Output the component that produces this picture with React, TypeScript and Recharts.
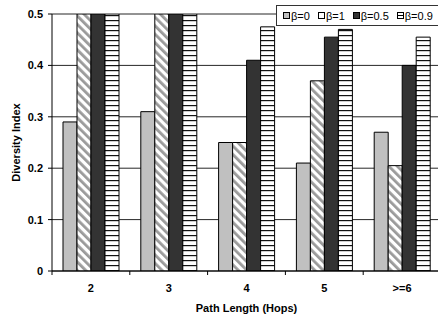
import React from 'react';
import { BarChart, Bar, XAxis, YAxis, CartesianGrid, Label } from 'recharts';

const categories = ['2', '3', '4', '5', '>=6'];
const beta0 = [0.29, 0.31, 0.25, 0.21, 0.27];
const beta1 = [0.5, 0.5, 0.25, 0.37, 0.205];
const beta05 = [0.5, 0.5, 0.41, 0.455, 0.4];
const beta09 = [0.5, 0.5, 0.475, 0.47, 0.455];
const yTicks = [0, 0.1, 0.2, 0.3, 0.4, 0.5];
const seriesNames = ['β=0', 'β=1', 'β=0.5', 'β=0.9'];

const data = categories.map((c, i) => ({
  cat: c,
  b0: beta0[i],
  b1: beta1[i],
  b05: beta05[i],
  b09: beta09[i],
}));

const FONT = "Arial, 'Liberation Sans', sans-serif";

const XTick = (props: any) => {
  const { x, y, payload } = props;
  const off = payload && typeof payload.offset === 'number' ? payload.offset : 39;
  return (
    <g>
      <line x1={x - off} x2={x - off} y1={y} y2={y + 4} stroke="#000" />
      <text x={x} y={y + 13} dy="0.71em" textAnchor="middle" fontFamily={FONT} fontSize={11} fontWeight="bold" fill="#000">
        {payload.value}
      </text>
    </g>
  );
};

const LegendSwatch = ({ kind }: { kind: number }) => {
  const fills = ['#c0c0c0', '#ffffff', '#333333', '#ffffff'];
  return (
    <svg width={7} height={7} style={{ display: 'block', marginRight: 1 }}>
      <rect x={0.5} y={0.5} width={6} height={6} fill={fills[kind]} stroke="#000" strokeWidth={1} />
      {kind === 3 ? <line x1={0.5} x2={6.5} y1={3.5} y2={3.5} stroke="#000" /> : null}
    </svg>
  );
};

export default function App() {
  return (
    <div style={{ position: 'absolute', left: 0, top: 0, width: 438, height: 318, overflow: 'hidden', background: '#fff' }}>
      <BarChart
        width={450}
        height={318}
        data={data}
        margin={{ top: 14, right: 9, left: 0, bottom: 0 }}
        barGap={0}
      >
        <defs>
          <pattern id="diag" patternUnits="userSpaceOnUse" width={6} height={6} patternTransform="rotate(-45)">
            <rect x={0} y={0} width={6} height={6} fill="#fff" />
            <rect x={0} y={0} width={2.8} height={6} fill="#9a9a9a" />
          </pattern>
          <pattern id="horiz" patternUnits="userSpaceOnUse" width={6} height={5}>
            <rect x={0} y={0} width={6} height={5} fill="#fff" />
            <rect x={0} y={0} width={6} height={1.2} fill="#111" />
          </pattern>
        </defs>
        <CartesianGrid vertical={false} stroke="#000" strokeOpacity={0.85} />
        <XAxis
          dataKey="cat"
          stroke="#000"
          tickLine={false}
          tickSize={0}
          tickMargin={0}
          height={47}
          tick={<XTick />}
          interval={0}
        >
          <Label
            content={(p: any) => {
              const vb = p.viewBox;
              return (
                <text x={vb.x + vb.width / 2} y={vb.y + 37} textAnchor="middle" dominantBaseline="central" fontFamily={FONT} fontSize={11} fontWeight="bold" fill="#000">
                  Path Length (Hops)
                </text>
              );
            }}
          />
        </XAxis>
        <YAxis
          width={52}
          domain={[0, 0.5]}
          ticks={yTicks}
          allowDataOverflow
          stroke="#000"
          tickSize={4}
          tickMargin={5}
          tick={{ fontFamily: FONT, fontSize: 11, fontWeight: 'bold', fill: '#000' }}
          tickFormatter={(v: number) => (v === 0 ? '0' : String(v))}
        >
          <Label
            content={(p: any) => {
              const vb = p.viewBox;
              const cx = vb.x + 16;
              const cy = vb.y + vb.height / 2;
              return (
                <text x={cx} y={cy} transform={`rotate(-90 ${cx} ${cy})`} textAnchor="middle" dominantBaseline="central" fontFamily={FONT} fontSize={11} fontWeight="bold" fill="#000">
                  Diversity Index
                </text>
              );
            }}
          />
        </YAxis>
        <Bar dataKey="b0" name={seriesNames[0]} fill="#c0c0c0" stroke="#000" strokeWidth={1} barSize={14} isAnimationActive={false} />
        <Bar dataKey="b1" name={seriesNames[1]} fill="url(#diag)" stroke="#000" strokeWidth={1} barSize={14} isAnimationActive={false} />
        <Bar dataKey="b05" name={seriesNames[2]} fill="#333333" stroke="#000" strokeWidth={1} barSize={14} isAnimationActive={false} />
        <Bar dataKey="b09" name={seriesNames[3]} fill="url(#horiz)" stroke="#000" strokeWidth={1} barSize={14} isAnimationActive={false} />
      </BarChart>
      <div
        style={{
          position: 'absolute',
          left: 276,
          top: 5,
          width: 180,
          height: 21,
          border: '1px solid #333',
          background: '#fff',
          display: 'flex',
          alignItems: 'center',
          paddingLeft: 6,
          boxSizing: 'border-box',
          fontFamily: FONT,
          fontSize: 11,
          color: '#000',
        }}
      >
        {seriesNames.map((n, i) => (
          <div key={n} style={{ display: 'flex', alignItems: 'center', marginRight: 8 }}>
            <LegendSwatch kind={i} />
            <span>{n}</span>
          </div>
        ))}
      </div>
    </div>
  );
}
